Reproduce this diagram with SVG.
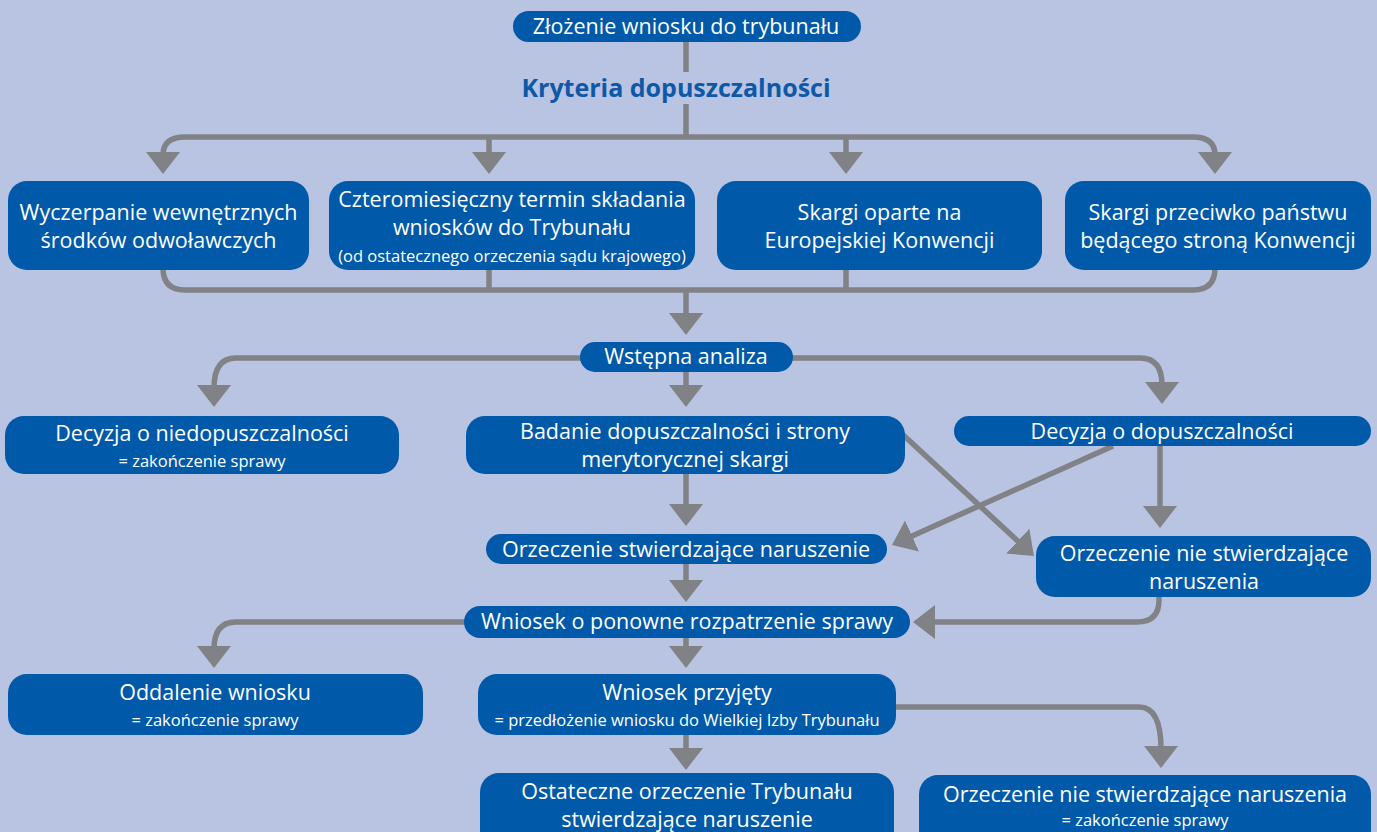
<svg xmlns="http://www.w3.org/2000/svg" width="1377" height="832" viewBox="0 0 1377 832">
<style>
.bg{fill:#b9c3e2}
.box{fill:#0059a9}
.t{font-family:"Open Sans","Noto Sans",sans-serif;font-size:21.5px;fill:#ffffff;text-anchor:middle}
.s{font-family:"Open Sans","Noto Sans",sans-serif;font-size:16.5px;fill:#ffffff;text-anchor:middle}
.h{font-family:"Open Sans","Noto Sans",sans-serif;font-size:25px;font-weight:bold;fill:#0d59a8;text-anchor:middle}
.c{fill:none;stroke:#818285;stroke-width:5.5}
.a{marker-end:url(#ah)}
</style>
<defs>
<marker id="ah" viewBox="0 0 22 34" refX="3" refY="17" markerWidth="22" markerHeight="34" markerUnits="userSpaceOnUse" orient="auto">
<path d="M0,0 L22,17 L0,34 Z" fill="#818285"/>
</marker>
</defs>
<rect class="bg" x="0" y="0" width="1377" height="832"/>

<g id="connectors">
<path class="c" d="M686,41 V72"/>
<path class="c" d="M686,104 V137"/>
<path class="c a" d="M686,137 H185 Q163,137 163,155"/>
<path class="c a" d="M686,137 H1193 Q1215,137 1215,155"/>
<path class="c a" d="M489,137 V155"/>
<path class="c a" d="M846,137 V155"/>
<path class="c" d="M163,265 V268 Q163,290 185,290 H1193 Q1215,290 1215,268 V265"/>
<path class="c" d="M489,265 V290"/>
<path class="c" d="M846,265 V290"/>
<path class="c a" d="M686,290 V316"/>
<path class="c a" d="M590,358 H236 Q214,358 214,388"/>
<path class="c a" d="M783,358 H1140 Q1162,358 1162,385"/>
<path class="c a" d="M686,372 V388"/>
<path class="c a" d="M1160,446 V509"/>
<path class="c a" d="M1113,446 L909.3,537.2"/>
<path class="c a" d="M900,432 L1020,543.1"/>
<path class="c a" d="M686,474 V507"/>
<path class="c a" d="M686,564 V583"/>
<path class="c a" d="M1159,590 V600 Q1159,622 1137,622 H932"/>
<path class="c a" d="M474,622 H236 Q214,622 214,649"/>
<path class="c a" d="M686,638 V649"/>
<path class="c a" d="M886,707 H1139 Q1161,707 1161,749"/>
<path class="c a" d="M686,735 V751"/>
</g>

<g id="n-zlozenie">
<rect class="box" x="513" y="11" width="348" height="31" rx="15.5"/>
<text class="t" x="686" y="34">Złożenie wniosku do trybunału</text>
</g>
<g id="n-kryteria">
<text class="h" x="676" y="97">Kryteria dopuszczalności</text>
</g>
<g id="n-wyczerpanie">
<rect class="box" x="8" y="181" width="301" height="89" rx="19"/>
<text class="t" x="158.5" y="220">Wyczerpanie wewnętrznych</text>
<text class="t" x="158.5" y="248">środków odwoławczych</text>
</g>
<g id="n-termin">
<rect class="box" x="329" y="181" width="366" height="89" rx="19"/>
<text class="t" x="512" y="207">Czteromiesięczny termin składania</text>
<text class="t" x="512" y="235">wniosków do Trybunału</text>
<text class="s" x="512" y="262">(od ostatecznego orzeczenia sądu krajowego)</text>
</g>
<g id="n-skargi-konwencja">
<rect class="box" x="717" y="181" width="325" height="89" rx="19"/>
<text class="t" x="879.5" y="220">Skargi oparte na</text>
<text class="t" x="879.5" y="248">Europejskiej Konwencji</text>
</g>
<g id="n-skargi-panstwo">
<rect class="box" x="1065" y="181" width="306" height="89" rx="19"/>
<text class="t" x="1218" y="220">Skargi przeciwko państwu</text>
<text class="t" x="1218" y="248">będącego stroną Konwencji</text>
</g>
<g id="n-wstepna">
<rect class="box" x="580" y="342" width="213" height="30" rx="15"/>
<text class="t" x="686" y="364">Wstępna analiza</text>
</g>
<g id="n-niedopuszczalnosc">
<rect class="box" x="5" y="416" width="394" height="58" rx="19"/>
<text class="t" x="202" y="441">Decyzja o niedopuszczalności</text>
<text class="s" x="202" y="467">= zakończenie sprawy</text>
</g>
<g id="n-badanie">
<rect class="box" x="466" y="416" width="439" height="58" rx="19"/>
<text class="t" x="685" y="439">Badanie dopuszczalności i strony</text>
<text class="t" x="685" y="467">merytorycznej skargi</text>
</g>
<g id="n-dopuszczalnosc">
<rect class="box" x="954" y="416" width="417" height="30" rx="15"/>
<text class="t" x="1162" y="439">Decyzja o dopuszczalności</text>
</g>
<g id="n-orzeczenie-stw">
<rect class="box" x="486" y="534" width="401" height="30" rx="15"/>
<text class="t" x="686" y="557">Orzeczenie stwierdzające naruszenie</text>
</g>
<g id="n-orzeczenie-nie">
<rect class="box" x="1036" y="536" width="335" height="61" rx="19"/>
<text class="t" x="1204" y="561">Orzeczenie nie stwierdzające</text>
<text class="t" x="1204" y="589">naruszenia</text>
</g>
<g id="n-wniosek-ponowne">
<rect class="box" x="464" y="606" width="446" height="32" rx="16"/>
<text class="t" x="687" y="629">Wniosek o ponowne rozpatrzenie sprawy</text>
</g>
<g id="n-oddalenie">
<rect class="box" x="8" y="674" width="415" height="61" rx="19"/>
<text class="t" x="215" y="700">Oddalenie wniosku</text>
<text class="s" x="215" y="726">= zakończenie sprawy</text>
</g>
<g id="n-przyjety">
<rect class="box" x="478" y="674" width="418" height="61" rx="19"/>
<text class="t" x="687" y="700">Wniosek przyjęty</text>
<text class="s" x="687" y="726">= przedłożenie wniosku do Wielkiej Izby Trybunału</text>
</g>
<g id="n-ostateczne">
<rect class="box" x="480" y="773" width="414" height="80" rx="19"/>
<text class="t" x="687" y="799">Ostateczne orzeczenie Trybunału</text>
<text class="t" x="687" y="827">stwierdzające naruszenie</text>
</g>
<g id="n-orzeczenie-nie-final">
<rect class="box" x="919" y="775" width="452" height="80" rx="19"/>
<text class="t" x="1145" y="802">Orzeczenie nie stwierdzające naruszenia</text>
<text class="s" x="1145" y="826">= zakończenie sprawy</text>
</g>
</svg>
